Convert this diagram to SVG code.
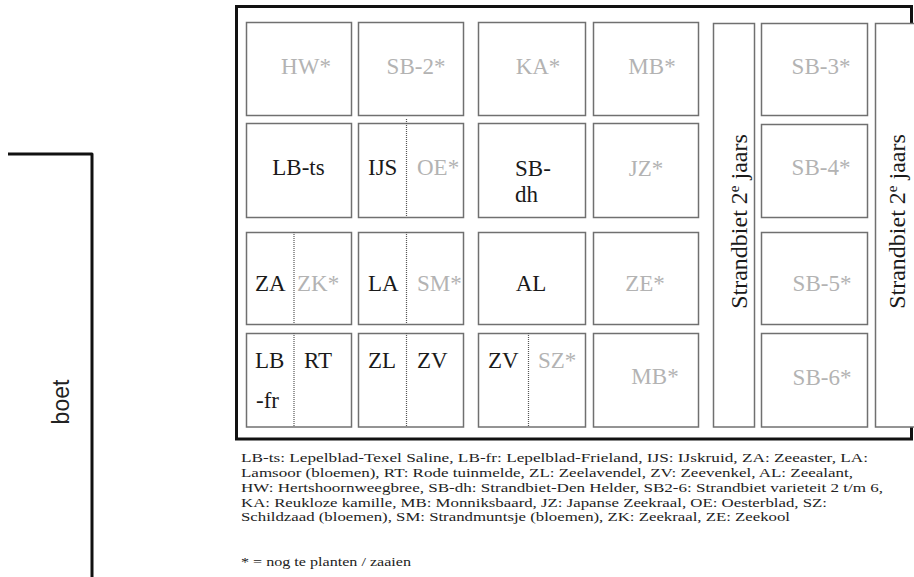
<svg xmlns="http://www.w3.org/2000/svg" width="914" height="577" viewBox="0 0 914 577">
<style>
.box{fill:#fff;stroke:#707070;stroke-width:1.5}
.dv{stroke:#555;stroke-width:1.2;stroke-dasharray:1 1;fill:none}
.lbl{font-family:"Liberation Serif","Times New Roman","DejaVu Serif",serif;font-size:23px;fill:#1a1a1a}
.todo{fill:#b3b3b3}
.vt{font-family:"Liberation Serif","Times New Roman","DejaVu Serif",serif;font-size:24px;fill:#1a1a1a}
.leg{font-family:"Liberation Serif","Times New Roman","DejaVu Serif",serif;font-size:13px;fill:#222}
.c{text-anchor:middle}
</style>
<rect width="914" height="577" fill="#fff"/>
<g id="boet">
<path d="M8 154 H92 V580" fill="none" stroke="#111" stroke-width="3" stroke-linejoin="round"/>
<text transform="translate(69,402) rotate(-90)" text-anchor="middle" font-family="Liberation Sans, Arial, sans-serif" font-size="23" fill="#222">boet</text>
</g>
<g id="frame"><rect x="236.5" y="6.5" width="675" height="432.5" fill="none" stroke="#111" stroke-width="3"/></g>
<g id="cell-HW"><rect class="box" x="246.5" y="22.5" width="105" height="93"/><text class="lbl todo c" x="306" y="74">HW*</text></g>
<g id="cell-SB2"><rect class="box" x="358.5" y="22.5" width="105" height="93"/><text class="lbl todo c" x="416" y="74">SB-2*</text></g>
<g id="cell-KA"><rect class="box" x="478.5" y="22.5" width="107" height="93"/><text class="lbl todo c" x="538" y="74">KA*</text></g>
<g id="cell-MB1"><rect class="box" x="593.5" y="22.5" width="105" height="93"/><text class="lbl todo c" x="652" y="74">MB*</text></g>
<g id="cell-SB3"><rect class="box" x="761.5" y="23.5" width="106" height="92"/><text class="lbl todo c" x="821" y="74">SB-3*</text></g>
<g id="cell-LBts"><rect class="box" x="246.5" y="123.5" width="105" height="94"/><text class="lbl c" x="298.5" y="175">LB-ts</text></g>
<g id="cell-IJS-OE"><rect class="box" x="358.5" y="123.5" width="105" height="94"/><line class="dv" x1="406.5" y1="119" x2="406.5" y2="217"/><text class="lbl" x="368" y="175">IJS</text><text class="lbl todo" x="417" y="175">OE*</text></g>
<g id="cell-SBdh"><rect class="box" x="478.5" y="123.5" width="107" height="94"/><text class="lbl" x="515" y="176">SB-</text><text class="lbl" x="515" y="202">dh</text></g>
<g id="cell-JZ"><rect class="box" x="593.5" y="123.5" width="105" height="94"/><text class="lbl todo c" x="646" y="175.5">JZ*</text></g>
<g id="cell-SB4"><rect class="box" x="761.5" y="124.5" width="106" height="93"/><text class="lbl todo c" x="821" y="175">SB-4*</text></g>
<g id="cell-ZA-ZK"><rect class="box" x="246.5" y="232.5" width="105" height="92"/><line class="dv" x1="294" y1="232" x2="294" y2="324"/><text class="lbl" x="255" y="291">ZA</text><text class="lbl todo" x="297" y="291">ZK*</text></g>
<g id="cell-LA-SM"><rect class="box" x="358.5" y="232.5" width="105" height="92"/><line class="dv" x1="406.5" y1="232" x2="406.5" y2="324"/><text class="lbl" x="368" y="291">LA</text><text class="lbl todo" x="417" y="291">SM*</text></g>
<g id="cell-AL"><rect class="box" x="478.5" y="232.5" width="107" height="92"/><text class="lbl c" x="531" y="291">AL</text></g>
<g id="cell-ZE"><rect class="box" x="593.5" y="232.5" width="105" height="92"/><text class="lbl todo c" x="645" y="291">ZE*</text></g>
<g id="cell-SB5"><rect class="box" x="761.5" y="232.5" width="106" height="92"/><text class="lbl todo c" x="822" y="291">SB-5*</text></g>
<g id="cell-LBfr-RT"><rect class="box" x="246.5" y="333.5" width="105" height="93.5"/><line class="dv" x1="294" y1="333" x2="294" y2="427"/><text class="lbl" x="255" y="368">LB</text><text class="lbl" x="256" y="408" font-size="16">-fr</text><text class="lbl" x="304" y="368">RT</text></g>
<g id="cell-ZL-ZV"><rect class="box" x="358.5" y="333.5" width="105" height="93.5"/><line class="dv" x1="406.5" y1="333" x2="406.5" y2="427"/><text class="lbl" x="368" y="368">ZL</text><text class="lbl" x="417" y="368">ZV</text></g>
<g id="cell-ZV-SZ"><rect class="box" x="478.5" y="333.5" width="107" height="93.5"/><line class="dv" x1="528.5" y1="333" x2="528.5" y2="427" stroke-width="1.6" stroke-dasharray="1.5 1.5"/><text class="lbl" x="488" y="368">ZV</text><text class="lbl todo" x="538" y="368">SZ*</text></g>
<g id="cell-MB2"><rect class="box" x="593.5" y="333.5" width="105" height="93.5"/><text class="lbl todo c" x="655" y="383.5">MB*</text></g>
<g id="cell-SB6"><rect class="box" x="761.5" y="333.5" width="106" height="93.5"/><text class="lbl todo c" x="822" y="385">SB-6*</text></g>
<g id="strip-1"><rect class="box" x="713.5" y="23.5" width="41" height="403.5"/><text class="vt c" transform="translate(747,221.5) rotate(-90)">Strandbiet 2<tspan font-size="15" dy="-8">e</tspan><tspan dy="8"> jaars</tspan></text></g>
<g id="strip-2"><rect class="box" x="875.5" y="23.5" width="45" height="403.5"/><text class="vt c" transform="translate(905,221.5) rotate(-90)">Strandbiet 2<tspan font-size="15" dy="-8">e</tspan><tspan dy="8"> jaars</tspan></text></g>
<g id="legend">
<text class="leg" x="241" y="461.5" textLength="627" lengthAdjust="spacingAndGlyphs">LB-ts: Lepelblad-Texel Saline, LB-fr: Lepelblad-Frieland, IJS: IJskruid, ZA: Zeeaster, LA:</text>
<text class="leg" x="241" y="477" textLength="612" lengthAdjust="spacingAndGlyphs">Lamsoor (bloemen), RT: Rode tuinmelde, ZL: Zeelavendel, ZV: Zeevenkel, AL: Zeealant,</text>
<text class="leg" x="241" y="492" textLength="642" lengthAdjust="spacingAndGlyphs">HW: Hertshoornweegbree, SB-dh: Strandbiet-Den Helder, SB2-6: Strandbiet varieteit 2 t/m 6,</text>
<text class="leg" x="241" y="506.5" textLength="586" lengthAdjust="spacingAndGlyphs">KA: Reukloze kamille, MB: Monniksbaard, JZ: Japanse Zeekraal, OE: Oesterblad, SZ:</text>
<text class="leg" x="241" y="521" textLength="549" lengthAdjust="spacingAndGlyphs">Schildzaad (bloemen), SM: Strandmuntsje (bloemen), ZK: Zeekraal, ZE: Zeekool</text>
<text class="leg" x="241" y="565.5" textLength="170" lengthAdjust="spacingAndGlyphs">* = nog te planten / zaaien</text>
</g>
</svg>
